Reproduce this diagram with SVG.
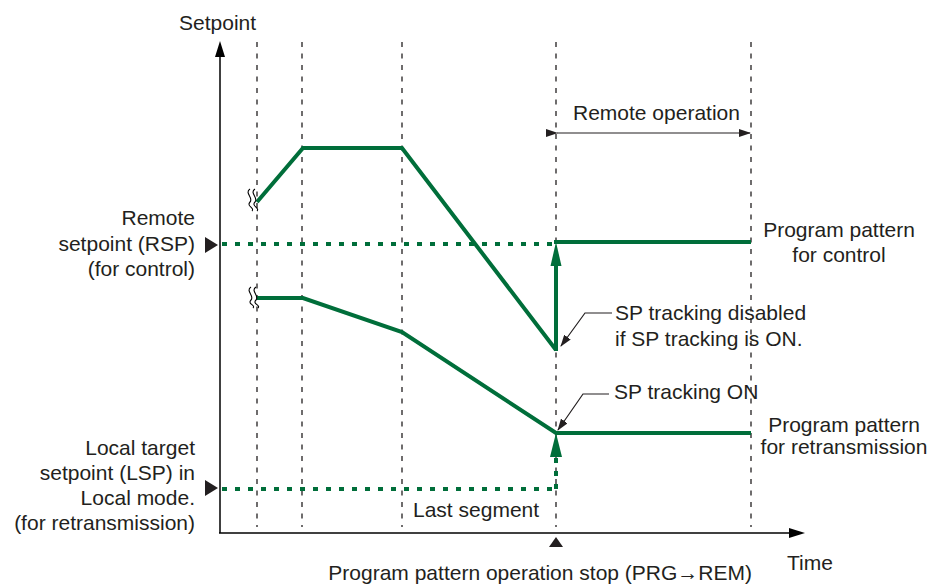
<svg xmlns="http://www.w3.org/2000/svg" width="938" height="585" viewBox="0 0 938 585">
<defs>
<style>
text{font-family:"Liberation Sans",Arial,sans-serif;font-size:21px;fill:#231F20}
.grid{stroke:#231F20;stroke-width:1.3;stroke-dasharray:5 6.5;fill:none}
.axis{stroke:#000;stroke-width:1.5;fill:none}
.g{stroke:#006E3A;stroke-width:4;fill:none;stroke-linejoin:miter}
.gd{stroke:#006E3A;stroke-width:4;fill:none;stroke-dasharray:5 8}
.gfill{fill:#006E3A}
.blk{fill:#231F20}
.thin{stroke:#231F20;stroke-width:1.2;fill:none}
.brk{stroke:#000;stroke-width:1.1;fill:none}
</style>
<marker id="ah" markerWidth="12" markerHeight="8" refX="11" refY="4" orient="auto" markerUnits="userSpaceOnUse">
<path d="M0,0 L12,4 L0,8 Z" fill="#231F20"/>
</marker>
</defs>
<rect width="938" height="585" fill="#fff"/>

<g id="axes">
<line class="axis" x1="220" y1="533" x2="220" y2="55"/>
<path d="M220,41 L225,57 L215,57 Z" fill="#000"/>
<line class="axis" x1="219" y1="533" x2="790" y2="533"/>
<path d="M805,533 L789,528 L789,538 Z" fill="#000"/>
<text x="179" y="30">Setpoint</text>
<text x="787" y="570">Time</text>
</g>

<g id="gridlines">
<line class="grid" x1="257" y1="42" x2="257" y2="527"/>
<line class="grid" x1="302" y1="42" x2="302" y2="527"/>
<line class="grid" x1="402" y1="42" x2="402" y2="527"/>
<line class="grid" x1="556" y1="42" x2="556" y2="527"/>
<line class="grid" x1="751" y1="42" x2="751" y2="527"/>
</g>

<g id="rsp">
<path class="blk" d="M205,237 L218,245 L205,253 Z"/>
<line class="gd" x1="222" y1="244" x2="556" y2="244"/>
<text text-anchor="end" x="195" y="225">Remote</text>
<text text-anchor="end" x="195" y="251">setpoint (RSP)</text>
<text text-anchor="end" x="195" y="276">(for control)</text>
</g>

<g id="lsp">
<path class="blk" d="M205,480 L218,488 L205,496 Z"/>
<line class="gd" x1="222" y1="489" x2="556" y2="489"/>
<text text-anchor="end" x="195" y="455">Local target</text>
<text text-anchor="end" x="195" y="480">setpoint (LSP) in</text>
<text text-anchor="end" x="195" y="505">Local mode.</text>
<text text-anchor="end" x="195" y="530">(for retransmission)</text>
</g>

<g id="control-pattern">
<polyline class="g" points="257,202 303,148 402,148 556,350"/>
<line class="g" x1="556" y1="351" x2="556" y2="262"/>
<path class="gfill" d="M556,242 L561.5,266 L550.5,266 Z"/>
<line class="g" x1="554" y1="242" x2="751" y2="242"/>
<path class="brk" d="M250,189 C244,193 254,198 250,202 C246,206 255,208 252,211"/>
<path class="brk" d="M255,189 C249,193 259,198 255,202 C251,206 260,208 257,211"/>
<text text-anchor="middle" x="839" y="237">Program pattern</text>
<text text-anchor="middle" x="839" y="262">for control</text>
</g>

<g id="retrans-pattern">
<polyline class="g" points="257,298 303,298 402,332 556,433 751,433"/>
<line class="gd" x1="556" y1="489" x2="556" y2="455" stroke-dasharray="6 5"/>
<path class="gfill" d="M556,433 L562,457 L550,457 Z"/>
<path class="brk" d="M251,287 C245,291 255,296 251,300 C247,304 256,305 253,308"/>
<path class="brk" d="M256,287 C250,291 260,296 256,300 C252,304 261,305 258,308"/>
<text text-anchor="middle" x="844" y="432">Program pattern</text>
<text text-anchor="middle" x="844" y="454">for retransmission</text>
</g>

<g id="remote-operation">
<line class="thin" x1="557" y1="133" x2="750" y2="133" marker-start="url(#ah)" marker-end="url(#ah)"/>
<text x="573" y="120">Remote operation</text>
</g>

<g id="callout-disabled">
<polyline class="thin" points="612,313 585,313 561,346" marker-end="url(#ah)"/>
<text x="615" y="320">SP tracking disabled</text>
<text x="615" y="346">if SP tracking is ON.</text>
</g>

<g id="callout-on">
<polyline class="thin" points="609,394 583,394 558,430" marker-end="url(#ah)"/>
<text x="614" y="399">SP tracking ON</text>
</g>

<g id="last-segment">
<text x="413" y="517">Last segment</text>
</g>

<g id="stop">
<path class="blk" d="M556,537 L563,547 L549,547 Z"/>
<text text-anchor="end" x="752" y="580">Program pattern operation stop (PRG→REM)</text>
</g>
</svg>
